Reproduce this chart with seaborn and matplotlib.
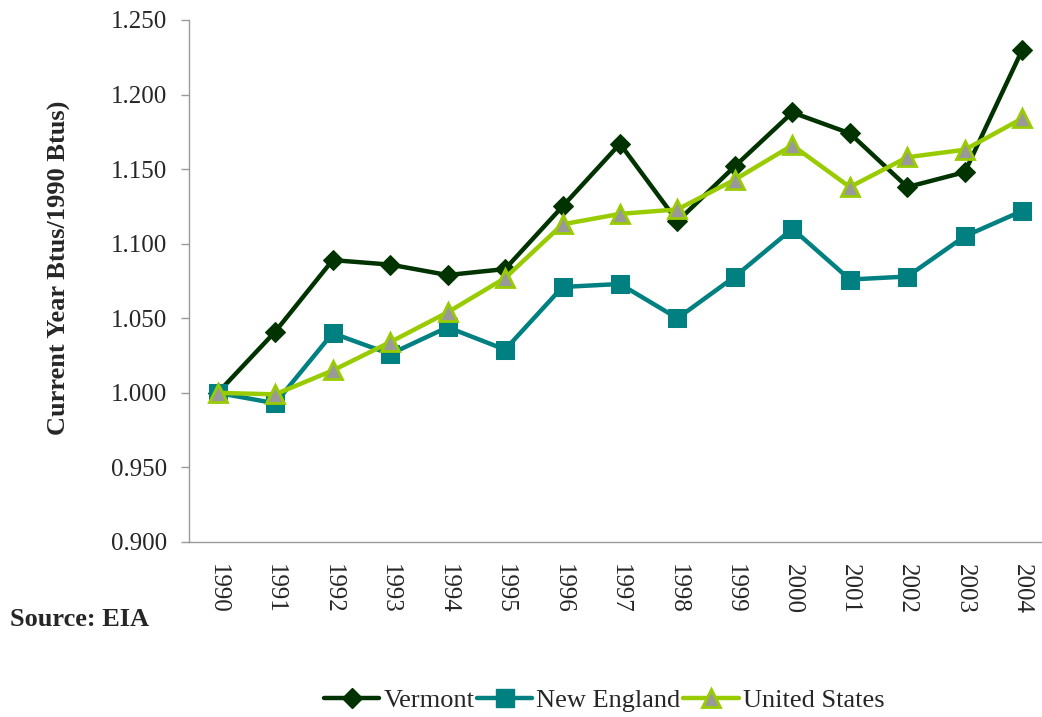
import pandas as pd
import matplotlib
matplotlib.use("Agg")
import matplotlib.pyplot as plt
import seaborn as sns
from matplotlib.lines import Line2D

# --- data ---
years = ["1990", "1991", "1992", "1993", "1994", "1995", "1996", "1997",
         "1998", "1999", "2000", "2001", "2002", "2003", "2004"]
vermont = [1.000, 1.041, 1.089, 1.086, 1.079, 1.083, 1.125, 1.167,
           1.115, 1.152, 1.188, 1.174, 1.138, 1.148, 1.230]
new_england = [1.000, 0.993, 1.040, 1.026, 1.044, 1.029, 1.071, 1.073,
               1.050, 1.078, 1.110, 1.076, 1.078, 1.105, 1.122]
united_states = [1.000, 0.999, 1.015, 1.034, 1.054, 1.077, 1.113, 1.120,
                 1.123, 1.143, 1.166, 1.138, 1.158, 1.163, 1.184]

df = pd.DataFrame({"pos": range(len(years)), "Vermont": vermont,
                   "New England": new_england, "United States": united_states})

sns.set_style("white")
plt.rcParams["font.family"] = ["Liberation Serif", "DejaVu Serif"]

fig = plt.figure(figsize=(10.42, 7.17), dpi=100)
ax = fig.add_axes([189 / 1042, 1 - 542 / 717, 862 / 1042, 522 / 717])

estilos = {
    "Vermont": dict(color="#003300", marker="D", markersize=10,
                    markerfacecolor="#003300", markeredgecolor="#003300"),
    "New England": dict(color="#008080", marker="s", markersize=13,
                        markerfacecolor="#008080", markeredgecolor="#008080"),
    "United States": dict(color="#99CC00", marker="^", markersize=13,
                          markerfacecolor="#999999", markeredgecolor="#99CC00",
                          markeredgewidth=2),
}

for serie, kw in estilos.items():
    sns.lineplot(data=df, x="pos", y=serie, ax=ax, linewidth=3.2, **kw)

ax.set_xlim(-0.5, len(years) - 0.5)
ax.set_ylim(0.9, 1.25)
ax.set_yticks([0.9 + 0.05 * i for i in range(8)])
ax.set_yticklabels([f"{0.9 + 0.05 * i:.3f}" for i in range(8)], fontsize=18)

ax.set_xticks(range(len(years)))
ax.set_xticklabels(years, rotation=270, fontsize=18)
ax.set_xticks([i - 0.5 for i in range(len(years) + 1)], minor=True)
ax.tick_params(axis="x", which="major", length=0, pad=16)
ax.tick_params(axis="x", which="minor", length=6, color="#999999", width=1)
ax.tick_params(axis="y", length=6, color="#999999", width=1, direction="out",
               left=True, pad=10)

for lado in ["top", "right"]:
    ax.spines[lado].set_visible(False)
for lado in ["left", "bottom"]:
    ax.spines[lado].set_color("#999999")
    ax.spines[lado].set_linewidth(1)

ax.set_xlabel("")
ax.set_ylabel("Current Year Btus/1990 Btus)", fontsize=19, fontweight="bold")
ax.yaxis.set_label_coords(-0.137, 0.525)

fig.text(10 / 1042, 1 - 620 / 717, "Source: EIA", fontsize=19, fontweight="bold",
         va="center", ha="left")

handles = [Line2D([], [], linewidth=3.2, **kw) for kw in estilos.values()]
fig.legend(handles, list(estilos.keys()), loc="center", ncol=3,
           bbox_to_anchor=(604 / 1042, 1 - 700 / 717), frameon=False,
           fontsize=19, handlelength=2.1, handletextpad=0.15, columnspacing=0.1)

fig.savefig("out.png", dpi=100)
